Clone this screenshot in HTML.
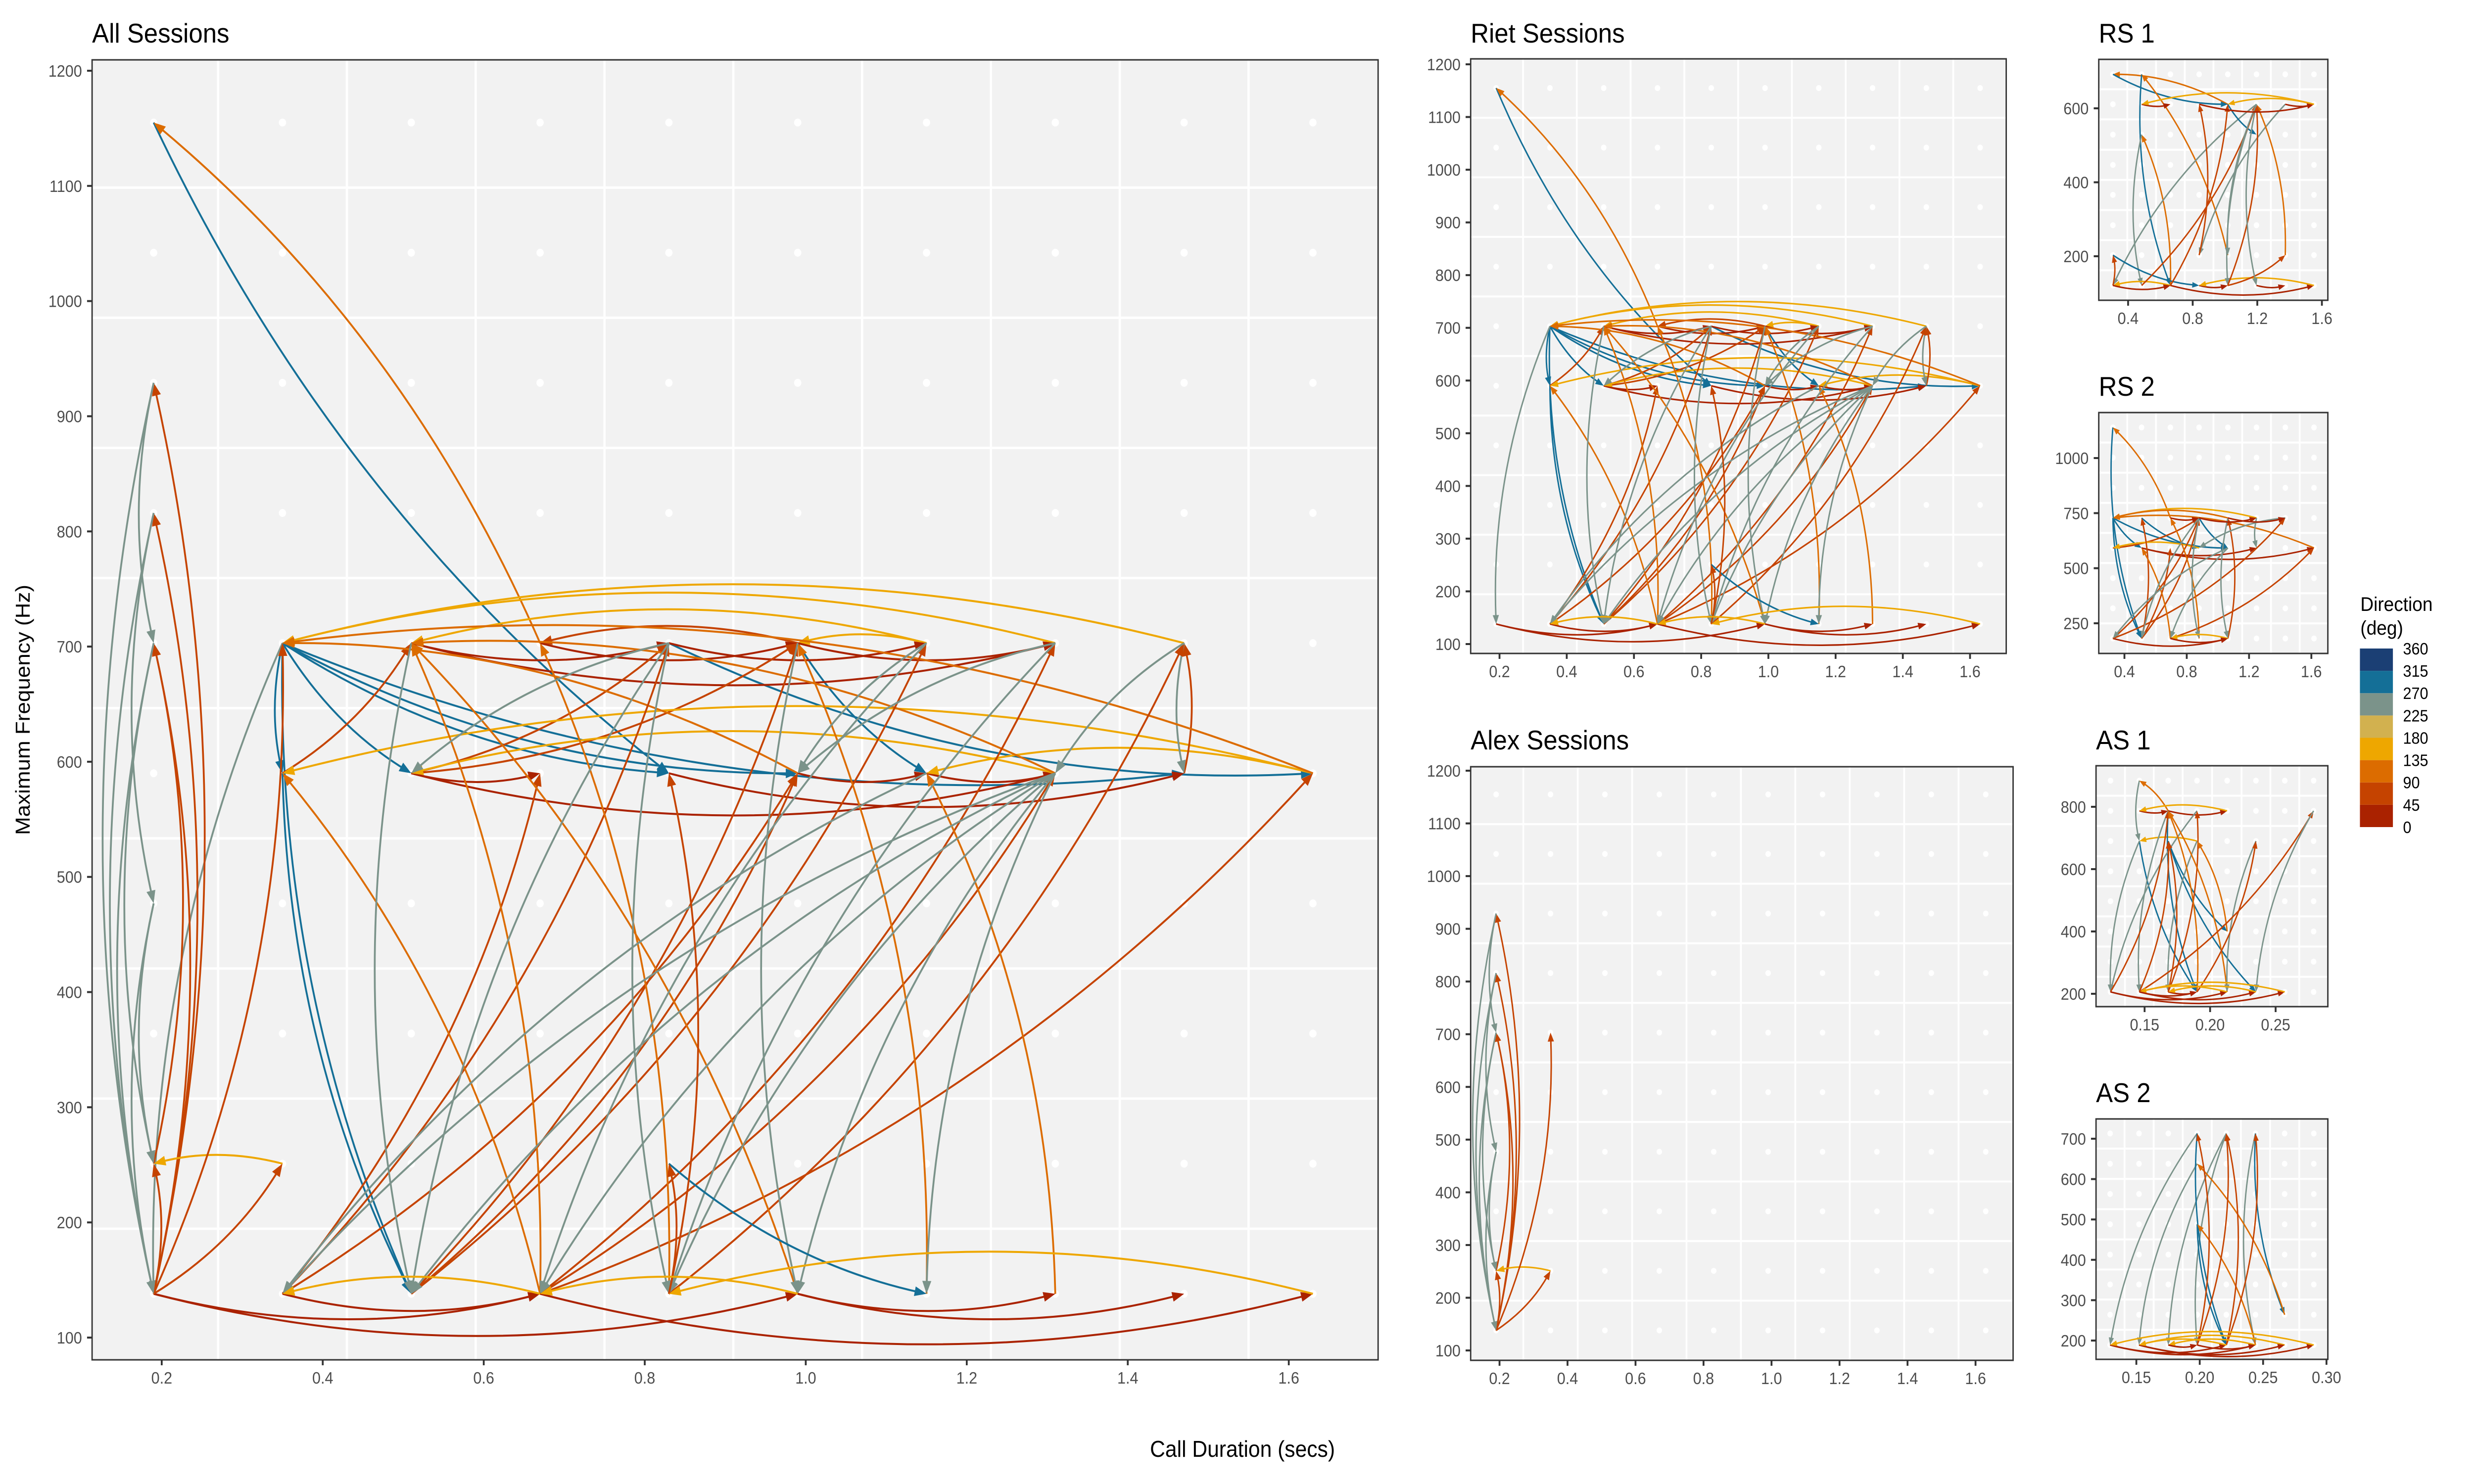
<!DOCTYPE html>
<html><head><meta charset="utf-8"><title>Call transitions</title>
<style>
html,body{margin:0;padding:0;background:#fff;width:100%;height:100%;overflow:hidden;}
svg{display:block;width:100vw;height:100vh;font-family:"Liberation Sans",Arial,sans-serif;}
</style></head>
<body>
<svg id="fig" xmlns="http://www.w3.org/2000/svg" viewBox="0 0 5400 3000" preserveAspectRatio="none">
<rect x="0" y="0" width="5400" height="3000" fill="#ffffff"/>
<text x="65" y="1435" font-size="44" fill="#000" text-anchor="middle" transform="rotate(-90 65 1435)">Maximum Frequency (Hz)</text>
<text x="2712" y="2945" font-size="46" fill="#000" text-anchor="middle">Call Duration (secs)</text>
<g>
<text x="5152" y="1235" font-size="40" fill="#000">Direction</text>
<text x="5152" y="1283" font-size="40" fill="#000">(deg)</text>
<g id="legendKeys"></g>
</g>
</svg>
<script>
// ---------- colour scale data ----------
const dirBreaks = [0,45,90,135,180,225,270,315,360];
const dirColors = ['#aa2200','#c54300','#dc6c00','#eea700','#d2b14f','#7b938a','#146f97','#1b3f74'];

// ---------- shared node set (All / Riet / Alex sessions) ----------
const sessDur  = [0.19,0.35,0.51,0.67,0.83,0.99,1.15,1.31,1.47,1.63, 0.35,0.51,0.67,0.83,0.99,1.15,1.31,1.47,1.63, 0.35,0.51,0.67,0.83,0.99,1.15,1.31,1.47, 0.19,0.19,0.35,0.83,0.19,0.19,0.19,0.19];
const sessFreq = [138,138,138,138,138,138,138,138,138,138, 590,590,590,590,590,590,590,590,590, 703,703,703,703,703,703,703,703, 1155,251,251,251,929,816,703,477];

const rietFrom = [27,21,19,19,19,19,22,23,19,19,10,19, 26,25,24,24, 20,20,23,21,22,23, 10,11,11,11,11,13,14,15,18,16,18,17,26, 14,18,16, 1,2,2,3,4,1,2,3,3,1, 3,3,5,7,6,4, 20,22,22,23,24,25,26,16,16,16,16,24,25,15,22,16,16, 30,4,4, 1,0,0,3,5,5, 9,3,5];
const rietTo   = [13,27,11,13,14,17,18,15,10,2,2,0, 19,19,20,23, 25,22,21,23,24,25, 20,23,22,12,16,17,15,16,10,11,15,26,17, 19,19,20, 22,23,24,25,26,12,14,16,18,14, 10,20,20,15,23,21, 2,4,2,5,3,4,16,1,4,5,6,14,14,1,11,2,3, 6,30,13, 3,3,5,9,7,8, 4,1,3];
const rietDir  = [290,110,290,290,290,290,290,290,290,290,290,250, 160,160,160,160, 20,20,60,20,20,20, 60,60,60,20,20,20,20,20,160,160,160,60,250, 110,110,110, 60,60,60,60,60,60,60,60,60,60, 110,110,110,110,110,110, 250,250,250,250,250,250,250,250,250,250,250,250,250,250,250,250,250, 290,60,60, 20,20,20,20,20,20, 160,160,160];

const alexFrom = [0,31,0,32,34,33,0,28,33,0,29,0,0,32,31,34];
const alexTo   = [31,33,32,34,0,0,33,33,28,28,28,29,19,0,0,28];
const alexDir  = [60,250,60,250,250,250,60,60,250,60,160,60,60,250,250,250];

// ---------- RS 1 ----------
const rs1Dur  = [0.306,0.484,0.484,0.484,0.306,0.306,0.662,0.840,1.017,1.195,1.373,1.551,0.484,0.662,0.840,1.017,1.195,1.373,1.551,0.840,1.017,1.373,1.195];
const rs1Freq = [692,692,529,121,121,203,121,121,121,121,121,121,611,611,611,611,611,611,611,203,203,203,529];
const rs1From = [15,0,1,20,6,2,16,17,15,5,4,6,4,6,7,11,9,8,21,16,8,16,6,3,19,16,12,14,18,17,18];
const rs1To   = [0,15,6,1,2,3,4,19,22,7,5,4,6,11,8,7,10,21,16,8,16,9,15,16,14,20,13,18,12,18,15];
const rs1Dir  = [110,290,290,110,110,250,250,250,290,290,60,160,20,20,20,160,20,60,110,250,60,250,60,60,60,250,20,20,160,20,160];

// ---------- RS 2 ----------
const rs2Dur  = [0.326,0.326,0.326,0.326,0.510,0.510,0.510,0.695,0.695,0.695,0.879,0.879,0.879,1.064,1.064,1.064,1.248,1.248,1.433,1.433,1.617];
const rs2Freq = [1139,728,592,181,728,592,181,728,592,181,728,592,181,728,592,181,728,592,728,592,592];
const rs2From = [0,7,1,1,1,4,10,16,13,20,2,11,5,5,3,3,3,6,6,6,9,12,9,15,13,10,14,14,18,16,10,15,9,7,10,13];
const rs2To   = [6,0,6,5,14,11,14,1,1,1,10,2,17,20,15,10,18,4,10,8,5,7,20,13,15,12,9,3,11,17,6,9,15,10,16,18];
const rs2Dir  = [290,110,290,290,290,290,290,160,110,110,60,160,20,20,20,60,60,60,60,60,110,110,60,60,250,250,250,250,250,250,250,160,20,20,20,20];

// ---------- AS 1 ----------
const as1Dur  = [0.146,0.146,0.168,0.146,0.190,0.213,0.190,0.124,0.146,0.168,0.190,0.213,0.235,0.257,0.168,0.213,0.235,0.279];
const as1Freq = [884,690,787,787,787,787,690,206,206,206,206,206,206,206,690,400,690,787];
const as1From = [0,2,3,2,5,6,1,1,14,14,2,2,4,6,7,8,9,9,10,15,11,16,10,8,17,7,7,8,13,11,9,12,8];
const as1To   = [1,0,2,5,3,1,10,7,15,12,10,8,7,9,2,14,4,14,2,6,2,11,16,17,12,13,11,12,8,8,10,9,10];
const as1Dir  = [250,110,20,20,160,160,290,250,290,290,290,250,250,250,60,60,60,60,110,110,110,250,60,60,250,20,20,20,160,160,20,160,20];

// ---------- AS 2 ----------
const as2Dur  = [0.198,0.1293,0.198,0.1521,0.221,0.1752,0.198,0.244,0.244,0.221,0.198,0.267,0.290,0.267];
const as2Freq = [713,189,638,189,713,189,189,713,189,189,488,264,189,189];
const as2From = [0,2,4,4,7,0,10,7,11,8,6,9,6,9,1,3,1,12,13,8,5,3,9,6];
const as2To   = [1,3,5,6,8,9,9,11,2,10,0,4,4,7,8,12,9,1,3,5,6,13,3,8];
const as2Dir  = [250,250,250,250,250,290,290,290,110,110,60,60,60,60,20,20,20,160,160,160,20,20,160,20];

// ---------- background grids (data units) ----------
const sessDotX = [0.19,0.35,0.51,0.67,0.83,0.99,1.15,1.31,1.47,1.63];
const sessDotY = [138,251,364,477,590,703,816,929,1042,1155];
const rs1DotX = [0.306,0.484,0.662,0.840,1.017,1.195,1.373,1.551];
const rs1DotY = [121,203,284,366,447,529,611,692];
const rs2DotX = [0.326,0.510,0.695,0.879,1.064,1.248,1.433,1.617];
const rs2DotY = [181,318,455,592,728,865,1002,1139];
const as1DotX = [0.124,0.146,0.168,0.190,0.213,0.235,0.257,0.279];
const as1DotY = [206,303,400,497,593,690,787,884];
const as2DotX = [0.1293,0.1521,0.1752,0.198,0.221,0.244,0.267,0.290];
const as2DotY = [189,264,339,413,488,563,638,713];

// ---------- tick labels ----------
const sessXTicks = ['0.2','0.4','0.6','0.8','1.0','1.2','1.4','1.6'];
const sessYTicks = ['100','200','300','400','500','600','700','800','900','1000','1100','1200'];
const rsXTicks = ['0.4','0.8','1.2','1.6'];
const rs1YTicks = ['200','400','600'];
const rs2YTicks = ['250','500','750','1000'];
const as1XTicks = ['0.15','0.20','0.25'];
const as1YTicks = ['200','400','600','800'];
const as2XTicks = ['0.15','0.20','0.25','0.30'];
const as2YTicks = ['200','300','400','500','600','700'];
const legendLabels = ['360','315','270','225','180','135','90','45','0'];

// ---------- rendering ----------
const NS = 'http://www.w3.org/2000/svg';
const svg = document.getElementById('fig');
function mk(tag, attrs, parent){
  const e = document.createElementNS(NS, tag);
  for (const k in attrs) e.setAttribute(k, attrs[k]);
  parent.appendChild(e);
  return e;
}
function lin(d0, p0, d1, p1){ return v => p0 + (v - d0) * (p1 - p0) / (d1 - d0); }
function colorFor(dir){
  let i = 0;
  while (i < dirColors.length - 1 && dir >= dirBreaks[i + 1]) i++;
  return dirColors[i];
}
function mids(a){ const r = []; for (let i = 0; i < a.length - 1; i++) r.push((a[i] + a[i + 1]) / 2); return r; }

function drawPanel(P){
  const g = mk('g', {}, svg);
  
  
  const [l, t, r, b] = P.box;
  const bg = mk('rect', {x:l, y:t, width:r - l, height:b - t, fill:'#f2f2f2'}, g);
  
  
  const gridG = mk('g', {stroke:'#ffffff', 'stroke-width':P.gw}, g);
  
  
  mids(P.dotX).forEach(v => { const X = P.sx(v); mk('line', {x1:X, x2:X, y1:t, y2:b}, gridG); });
  mids(P.dotY).forEach(v => { const Y = P.sy(v); mk('line', {x1:l, x2:r, y1:Y, y2:Y}, gridG); });
  const dotG = mk('g', {fill:'#ffffff'}, g);
  
  
  P.dotX.forEach(x => P.dotY.forEach(y => { mk('circle', {cx:P.sx(x), cy:P.sy(y), r:P.dr}, dotG); }));
  const edgeG = mk('g', {fill:'none'}, g);
  
  
  for (let k = 0; k < P.from.length; k++){
    const a = P.from[k], c = P.to[k];
    const x0 = P.sx(P.nx[a]), y0 = P.sy(P.ny[a]);
    const x1 = P.sx(P.nx[c]), y1 = P.sy(P.ny[c]);
    const dx = x1 - x0, dy = y1 - y0;
    const cx = (x0 + x1) / 2 - dy * P.curv, cy = (y0 + y1) / 2 + dx * P.curv;
    const col = colorFor(P.dir[k]);
    let ux = x1 - cx, uy = y1 - cy; const L = Math.hypot(ux, uy) || 1; ux /= L; uy /= L;
    const bx = x1 - ux * P.ah, by = y1 - uy * P.ah, w = P.ah * 0.38;
    const path = mk('path', {d:`M${x0.toFixed(1)},${y0.toFixed(1)} Q${cx.toFixed(1)},${cy.toFixed(1)} ${(x1 - ux * P.ah * 0.6).toFixed(1)},${(y1 - uy * P.ah * 0.6).toFixed(1)}`, stroke:col, 'stroke-width':P.lw}, edgeG);
    
    
    const head = mk('polygon', {points:`${x1.toFixed(1)},${y1.toFixed(1)} ${(bx - uy * w).toFixed(1)},${(by + ux * w).toFixed(1)} ${(bx + uy * w).toFixed(1)},${(by - ux * w).toFixed(1)}`, fill:col}, edgeG);
    
    
  }
  const border = mk('rect', {x:l, y:t, width:r - l, height:b - t, fill:'none', stroke:'#333333', 'stroke-width':3}, g);
  
  
  const axG = mk('g', {}, g);
  
  
  P.xt.forEach(s => {
    const X = P.sx(parseFloat(s));
    mk('line', {x1:X, x2:X, y1:b, y2:b + 11, stroke:'#333333', 'stroke-width':4}, axG);
    const tx = mk('text', {x:X, y:b + 48, 'font-size':33, fill:'#4d4d4d', 'text-anchor':'middle'}, axG);
    tx.textContent = s;
    
    
  });
  P.yt.forEach(s => {
    const Y = P.sy(parseFloat(s));
    mk('line', {x1:l - 11, x2:l, y1:Y, y2:Y, stroke:'#333333', 'stroke-width':4}, axG);
    const ty = mk('text', {x:l - 22, y:Y + 12, 'font-size':33, fill:'#4d4d4d', 'text-anchor':'end'}, axG);
    ty.textContent = s;
    
    
  });
  const tt = mk('text', {x:l, y:P.ty, 'font-size':55, fill:'#000'}, g);
  tt.textContent = P.title;
  
  
}

const allFrom = rietFrom.concat(alexFrom), allTo = rietTo.concat(alexTo), allDir = rietDir.concat(alexDir);

drawPanel({name:'all-sessions-panel', title:'All Sessions', ty:86, box:[201,121,3008,2749],
  sx:lin(0.2,353,1.6,2813), sy:lin(100,2704,1200,143), dotX:sessDotX, dotY:sessDotY,
  nx:sessDur, ny:sessFreq, from:allFrom, to:allTo, dir:allDir, xt:sessXTicks, yt:sessYTicks,
  lw:4, ah:26, dr:8, gw:5, curv:0.12});
drawPanel({name:'riet-sessions-panel', title:'Riet Sessions', ty:86, box:[3210,119,4379,1321],
  sx:lin(0.2,3273,1.6,4300), sy:lin(100,1302,1200,130), dotX:sessDotX, dotY:sessDotY,
  nx:sessDur, ny:sessFreq, from:rietFrom, to:rietTo, dir:rietDir, xt:sessXTicks, yt:sessYTicks,
  lw:3.2, ah:18, dr:6, gw:4, curv:0.12});
drawPanel({name:'alex-sessions-panel', title:'Alex Sessions', ty:1515, box:[3210,1550,4394,2750],
  sx:lin(0.2,3273,1.6,4312), sy:lin(100,2730,1200,1558), dotX:sessDotX, dotY:sessDotY,
  nx:sessDur, ny:sessFreq, from:alexFrom, to:alexTo, dir:alexDir, xt:sessXTicks, yt:sessYTicks,
  lw:3.2, ah:18, dr:6, gw:4, curv:0.12});
drawPanel({name:'rs1-panel', title:'RS 1', ty:86, box:[4581,120,5081,607],
  sx:lin(0.4,4645,1.6,5068), sy:lin(200,518,600,219), dotX:rs1DotX, dotY:rs1DotY,
  nx:rs1Dur, ny:rs1Freq, from:rs1From, to:rs1To, dir:rs1Dir, xt:rsXTicks, yt:rs1YTicks,
  lw:3, ah:15, dr:6, gw:4, curv:0.12});
drawPanel({name:'rs2-panel', title:'RS 2', ty:800, box:[4581,834,5081,1321],
  sx:lin(0.4,4637,1.6,5045), sy:lin(250,1260,1000,926), dotX:rs2DotX, dotY:rs2DotY,
  nx:rs2Dur, ny:rs2Freq, from:rs2From, to:rs2To, dir:rs2Dir, xt:rsXTicks, yt:rs2YTicks,
  lw:3, ah:15, dr:6, gw:4, curv:0.12});
drawPanel({name:'as1-panel', title:'AS 1', ty:1515, box:[4575,1548,5081,2035],
  sx:lin(0.15,4681,0.25,4967), sy:lin(200,2009,800,1631), dotX:as1DotX, dotY:as1DotY,
  nx:as1Dur, ny:as1Freq, from:as1From, to:as1To, dir:as1Dir, xt:as1XTicks, yt:as1YTicks,
  lw:3, ah:15, dr:6, gw:4, curv:0.12});
drawPanel({name:'as2-panel', title:'AS 2', ty:2228, box:[4575,2262,5081,2748],
  sx:lin(0.15,4663,0.30,5078), sy:lin(200,2710,700,2302), dotX:as2DotX, dotY:as2DotY,
  nx:as2Dur, ny:as2Freq, from:as2From, to:as2To, dir:as2Dir, xt:as2XTicks, yt:as2YTicks,
  lw:3, ah:15, dr:6, gw:4, curv:0.12});

// legend
const lg = document.getElementById('legendKeys');
const legY = lin(360, 1311, 0, 1672);
for (let i = 0; i < dirColors.length; i++){
  const top = legY(dirBreaks[i + 1]), bot = legY(dirBreaks[i]);
  const sw = mk('rect', {x:5151, y:top, width:72, height:bot - top, fill:dirColors[i]}, lg);
  
  
}
legendLabels.forEach(s => {
  const lt = mk('text', {x:5245, y:legY(parseFloat(s)) + 12, 'font-size':33, fill:'#000'}, lg);
  lt.textContent = s;
  
  
});
</script>
</body></html>
